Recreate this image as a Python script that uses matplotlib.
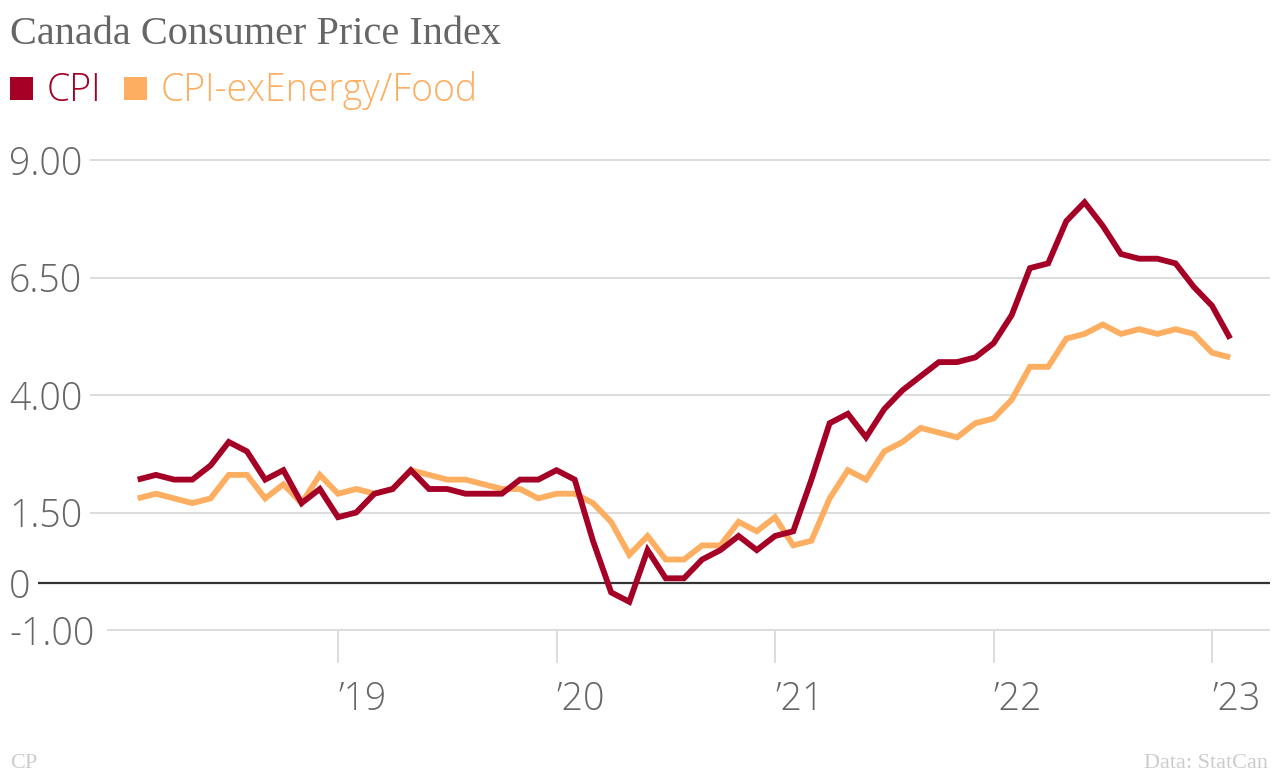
import matplotlib
matplotlib.use("Agg")
import matplotlib.pyplot as plt
from matplotlib.patches import Rectangle

# ---- data (monthly, Feb 2018 .. Feb 2023), y/y % change ----
start_month = 1  # months since Jan 2018 (1 = Feb 2018)
cpi = [2.2, 2.3, 2.2, 2.2, 2.5, 3.0, 2.8, 2.2, 2.4, 1.7, 2.0,
       1.4, 1.5, 1.9, 2.0, 2.4, 2.0, 2.0, 1.9, 1.9, 1.9, 2.2, 2.2,
       2.4, 2.2, 0.9, -0.2, -0.4, 0.7, 0.1, 0.1, 0.5, 0.7, 1.0, 0.7,
       1.0, 1.1, 2.2, 3.4, 3.6, 3.1, 3.7, 4.1, 4.4, 4.7, 4.7, 4.8,
       5.1, 5.7, 6.7, 6.8, 7.7, 8.1, 7.6, 7.0, 6.9, 6.9, 6.8, 6.3,
       5.9, 5.2]
core = [1.8, 1.9, 1.8, 1.7, 1.8, 2.3, 2.3, 1.8, 2.1, 1.7, 2.3,
        1.9, 2.0, 1.9, 2.0, 2.4, 2.3, 2.2, 2.2, 2.1, 2.0, 2.0, 1.8,
        1.9, 1.9, 1.7, 1.3, 0.6, 1.0, 0.5, 0.5, 0.8, 0.8, 1.3, 1.1,
        1.4, 0.8, 0.9, 1.8, 2.4, 2.2, 2.8, 3.0, 3.3, 3.2, 3.1, 3.4,
        3.5, 3.9, 4.6, 4.6, 5.2, 5.3, 5.5, 5.3, 5.4, 5.3, 5.4, 5.3,
        4.9, 4.8]
series_names = ["CPI", "CPI-exEnergy/Food"]
series_colors = ["#a50026", "#fdae61"]
y_ticks = [9.0, 6.5, 4.0, 1.5, 0.0, -1.0]
y_tick_labels = ["9.00", "6.50", "4.00", "1.50", "0", "-1.00"]
x_ticks = [12, 24, 36, 48, 60]  # months since Jan 2018
x_tick_labels = ["\u201919", "\u201920", "\u201921", "\u201922", "\u201923"]

W, H = 1280, 776
fig = plt.figure(figsize=(W / 100, H / 100), dpi=100)
ax = fig.add_axes([0, 0, 1, 1])
ax.set_axis_off()

# pixel mapping
px_per_month = (1212 - 338) / 48.0
x0_px = 338 - 12 * px_per_month
def px2m(px):
    return (px - x0_px) / px_per_month
py_per_unit = 47.0
def py2v(py):
    return 9.0 - (py - 160) / py_per_unit

ax.set_xlim(px2m(0), px2m(W))
ax.set_ylim(py2v(H), py2v(0))

months = list(range(start_month, start_month + len(cpi)))

light = dict(family=["Open Sans", "DejaVu Sans"], weight="light")

# gridlines + y labels
x_right = px2m(1270)
for v, lab in zip(y_ticks, y_tick_labels):
    ax.text(px2m(9), v, lab, ha="left", va="center_baseline", fontsize=27,
            color="#666666", zorder=3, **light)
for v, lab in zip(y_ticks, y_tick_labels):
    if lab == "0":
        start = 38
    elif lab.startswith("-"):
        start = 107
    else:
        start = 90
    if v == 0:
        ax.plot([px2m(start), x_right], [v, v], color="#333333", lw=1.6, zorder=2,
                solid_capstyle="butt")
    else:
        ax.plot([px2m(start), x_right], [v, v], color="#dddddd", lw=1.4, zorder=1,
                solid_capstyle="butt")

# x ticks
for m, lab in zip(x_ticks, x_tick_labels):
    ax.plot([m, m], [py2v(632), py2v(662)], color="#dddddd", lw=1.4, zorder=1)
    ax.text(m, py2v(695), lab, ha="left", va="center_baseline", fontsize=27,
            color="#666666", **light)

# data lines
ax.plot(months, core, color=series_colors[1], lw=4.2, zorder=4,
        solid_joinstyle="miter", solid_capstyle="butt")
ax.plot(months, cpi, color=series_colors[0], lw=4.2, zorder=5,
        solid_joinstyle="miter", solid_capstyle="butt")

# title
fig.text(10 / W, 1 - 34 / H, "Canada Consumer Price Index", ha="left", va="center",
         fontsize=29, color="#666666", family=["Liberation Serif", "DejaVu Serif"])

# legend
leg_items = [(10, 47, series_names[0], series_colors[0]),
             (124, 161, series_names[1], series_colors[1])]
for sq_x, tx, name, col in leg_items:
    fig.patches.append(Rectangle((sq_x / W, 1 - 100 / H), 23 / W, 23 / H,
                                 transform=fig.transFigure, facecolor=col,
                                 edgecolor="none"))
    fig.text(tx / W, 1 - 91 / H, name, ha="left", va="center", fontsize=27,
             color=col, **light)

# footer
fig.text(10 / W, 1 - 763 / H, "CP", ha="left", va="center", fontsize=16,
         color="#cccccc", family=["Liberation Serif", "DejaVu Serif"])
fig.text(1268 / W, 1 - 763 / H, "Data: StatCan", ha="right", va="center", fontsize=16,
         color="#cccccc", family=["Liberation Serif", "DejaVu Serif"])

fig.savefig("out.png", dpi=100)
